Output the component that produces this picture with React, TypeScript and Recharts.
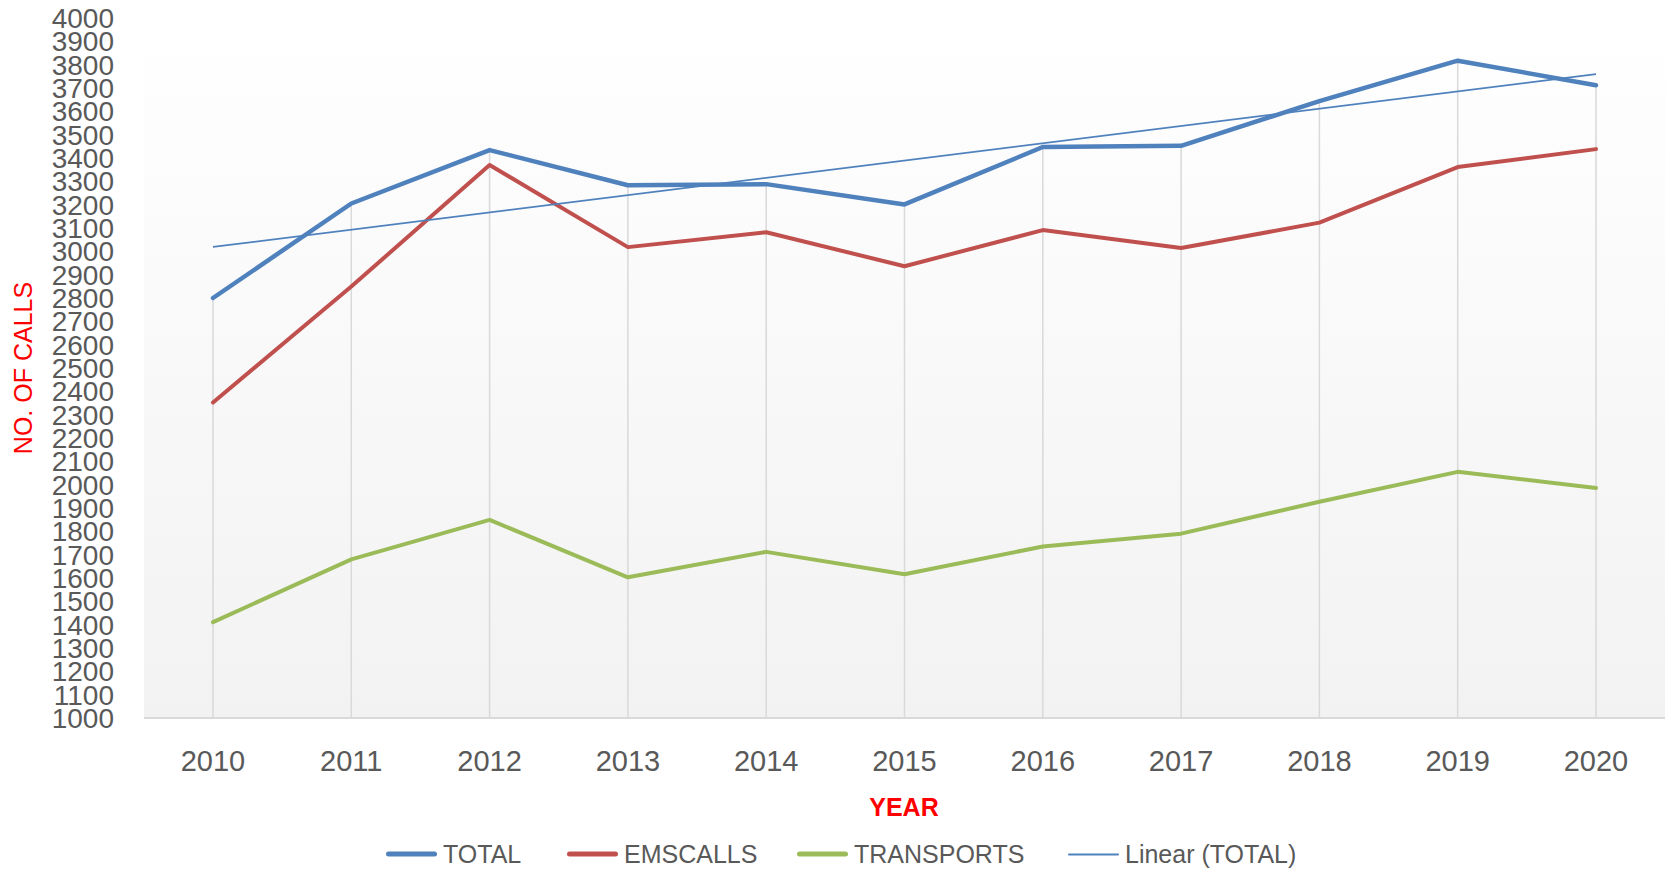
import { LineChart, Line, XAxis, YAxis, CartesianGrid, ReferenceLine } from "recharts";

const years = ["2010", "2011", "2012", "2013", "2014", "2015", "2016", "2017", "2018", "2019", "2020"];
const totalCalls = [2800, 3205, 3434, 3283, 3288, 3201, 3447, 3452, 3644, 3817, 3712];
const emsCalls = [2352, 2849, 3370, 3018, 3082, 2936, 3091, 3014, 3123, 3361, 3438];
const transports = [1411, 1680, 1849, 1603, 1712, 1616, 1735, 1790, 1927, 2055, 1986];
// Excel linear trendline of TOTAL: only its two ends are read, the line joins them
const linearTotal = [3019, null, null, null, null, null, null, null, null, null, 3759];
const yTicks = [
  1000, 1100, 1200, 1300, 1400, 1500, 1600, 1700, 1800, 1900, 2000, 2100, 2200, 2300, 2400, 2500,
  2600, 2700, 2800, 2900, 3000, 3100, 3200, 3300, 3400, 3500, 3600, 3700, 3800, 3900, 4000,
];

const legendItems = [
  { label: "TOTAL", color: "#4f81bd", width: 5, left: 386 },
  { label: "EMSCALLS", color: "#c0504d", width: 4.5, left: 567 },
  { label: "TRANSPORTS", color: "#9bbb59", width: 4.5, left: 797 },
  { label: "Linear (TOTAL)", color: "#4f81bd", width: 2, left: 1068 },
];

const FONT = '"Liberation Sans", Arial, sans-serif';

export default function App() {
  const data = years.map((year, i) => ({
    year,
    total: totalCalls[i],
    ems: emsCalls[i],
    transports: transports[i],
    linear: linearTotal[i],
  }));

  return (
    <div
      style={{
        position: "absolute",
        left: 0,
        top: 0,
        width: 1671,
        height: 873,
        background: "#ffffff",
        fontFamily: FONT,
      }}
    >
      <LineChart
        width={1671}
        height={873}
        data={data}
        margin={{ top: 18, right: 6, bottom: 95, left: 0 }}
      >
        <defs>
          <linearGradient id="plotBg" x1="0" y1="0" x2="0" y2="1">
            <stop offset="0" stopColor="#ffffff" />
            <stop offset="1" stopColor="#f2f2f2" />
          </linearGradient>
        </defs>
        <CartesianGrid horizontal={false} vertical={false} fill="url(#plotBg)" stroke="none" />
        <XAxis
          dataKey="year"
          height={60}
          padding={{ left: 69, right: 69 }}
          tickLine={false}
          tickSize={0}
          tickMargin={32}
          axisLine={{ stroke: "#d9d9d9", strokeWidth: 2 }}
          tick={{ fill: "#595959", fontSize: 29, fontFamily: FONT }}
          interval={0}
        />
        <YAxis
          width={144}
          domain={[1000, 4000]}
          ticks={yTicks}
          interval={0}
          tickLine={false}
          axisLine={false}
          tickSize={0}
          tickMargin={30}
          tick={{ fill: "#595959", fontSize: 28, fontFamily: FONT }}
        />
        {/* drop lines from the highest series down to the axis */}
        {years.map((yr, i) => (
          <ReferenceLine
            key={yr}
            segment={[
              { x: yr, y: 1000 },
              { x: yr, y: Math.max(totalCalls[i], emsCalls[i], transports[i]) },
            ]}
            stroke="#d9d9d9"
            strokeWidth={1.5}
          />
        ))}
        <Line
          dataKey="total"
          type="linear"
          stroke="#4f81bd"
          strokeWidth={4.5}
          strokeLinejoin="round"
          strokeLinecap="round"
          dot={false}
          activeDot={false}
          isAnimationActive={false}
        />
        <Line
          dataKey="ems"
          type="linear"
          stroke="#c0504d"
          strokeWidth={4}
          strokeLinejoin="round"
          strokeLinecap="round"
          dot={false}
          activeDot={false}
          isAnimationActive={false}
        />
        <Line
          dataKey="transports"
          type="linear"
          stroke="#9bbb59"
          strokeWidth={4}
          strokeLinejoin="round"
          strokeLinecap="round"
          dot={false}
          activeDot={false}
          isAnimationActive={false}
        />
        <Line
          dataKey="linear"
          type="linear"
          connectNulls
          stroke="#4f81bd"
          strokeWidth={1.75}
          dot={false}
          activeDot={false}
          isAnimationActive={false}
        />
      </LineChart>

      {/* axis titles */}
      <div
        style={{
          position: "absolute",
          left: 23,
          top: 368,
          transform: "translate(-50%, -50%) rotate(-90deg)",
          color: "#ff0000",
          fontSize: 25,
          whiteSpace: "nowrap",
          lineHeight: 1,
        }}
      >
        NO. OF CALLS
      </div>
      <div
        style={{
          position: "absolute",
          left: 904,
          top: 807,
          transform: "translate(-50%, -50%)",
          color: "#ff0000",
          fontSize: 25,
          fontWeight: "bold",
          whiteSpace: "nowrap",
          lineHeight: 1,
        }}
      >
        YEAR
      </div>

      {/* legend */}
      {legendItems.map((item) => (
        <div
          key={item.label}
          style={{
            position: "absolute",
            left: item.left,
            top: 854,
            transform: "translateY(-50%)",
            display: "flex",
            alignItems: "center",
            whiteSpace: "nowrap",
          }}
        >
          <span
            style={{
              display: "inline-block",
              width: 51,
              height: item.width,
              borderRadius: item.width,
              background: item.color,
              marginRight: 6,
            }}
          />
          <span style={{ color: "#595959", fontSize: 25, lineHeight: 1 }}>{item.label}</span>
        </div>
      ))}
    </div>
  );
}
